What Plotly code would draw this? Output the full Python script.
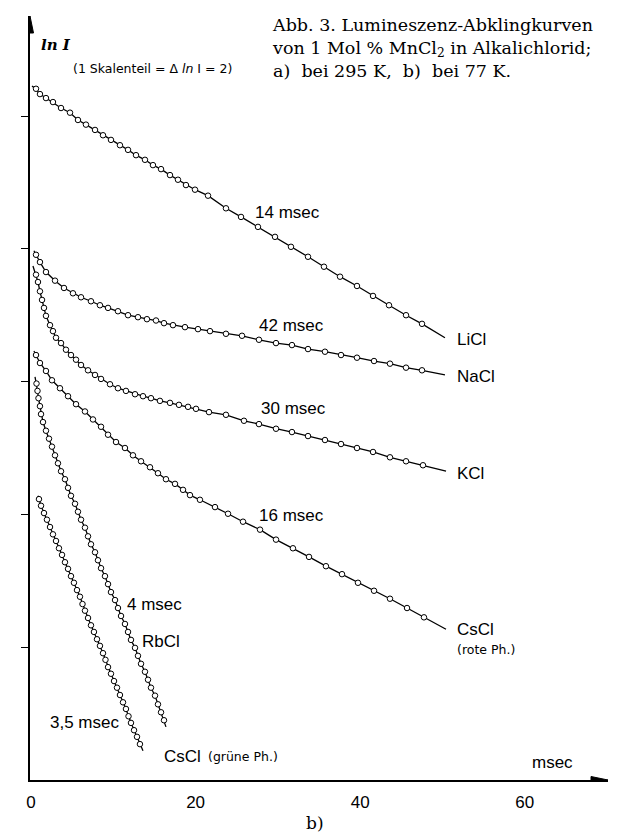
import plotly.graph_objects as go

# ---------------- data (t in msec, lnI in ln-units; 1 tick = 2) ----------------
x_tick_vals = [0, 20, 40, 60]
x_tick_text = ["0", "20", "40", "60"]
y_tick_vals = [2, 4, 6, 8, 10]

licl_t = [0.12, 0.61, 1.09, 1.82, 2.67, 3.65, 4.74, 5.71, 6.68, 7.78, 8.75, 9.72, 10.81, 11.79,
          12.76, 13.85, 14.82, 15.80, 16.89, 17.86, 18.83, 19.93, 21.51, 23.69, 25.52, 27.58,
          29.65, 31.59, 33.66, 35.60, 37.55, 39.61, 41.56, 43.50, 45.57, 47.51, 50.30]
licl_lnI = [10.45, 10.41, 10.33, 10.27, 10.21, 10.12, 10.05, 9.94, 9.87, 9.79, 9.71, 9.64, 9.56, 9.49,
            9.41, 9.34, 9.26, 9.20, 9.11, 9.04, 8.96, 8.89, 8.80, 8.61, 8.48, 8.33,
            8.18, 8.03, 7.88, 7.73, 7.58, 7.44, 7.29, 7.15, 7.00, 6.87, 6.66]

nacl_t = [0.36, 0.61, 1.09, 1.82, 2.92, 4.01, 5.10, 6.08, 7.29, 8.38, 9.36, 10.57, 11.79, 13.00,
          14.09, 15.19, 16.16, 17.25, 18.71, 20.29, 21.75, 23.69, 25.64, 27.70, 29.77, 31.71,
          33.66, 35.72, 37.67, 39.61, 41.68, 43.62, 45.57, 47.51, 50.30]
nacl_lnI = [7.97, 7.91, 7.80, 7.65, 7.52, 7.41, 7.33, 7.27, 7.21, 7.15, 7.11, 7.06, 7.00, 6.97,
            6.94, 6.92, 6.88, 6.85, 6.82, 6.79, 6.76, 6.72, 6.69, 6.63, 6.58, 6.55,
            6.49, 6.45, 6.40, 6.36, 6.31, 6.27, 6.21, 6.17, 6.10]

kcl_t = [0.24, 0.61, 0.85, 1.09, 1.34, 1.58, 1.82, 2.31, 2.67, 3.04, 3.65, 4.25, 4.86, 5.47,
         6.08, 6.93, 7.78, 8.51, 9.60, 10.57, 11.54, 12.64, 13.61, 14.58, 15.67, 16.89, 17.98,
         19.08, 20.05, 21.63, 23.69, 25.88, 27.70, 29.77, 31.71, 33.66, 35.72, 37.67, 39.61,
         41.56, 43.62, 45.57, 47.63, 50.43]
kcl_lnI = [7.74, 7.61, 7.50, 7.36, 7.23, 7.11, 6.99, 6.85, 6.76, 6.66, 6.58, 6.48, 6.40, 6.33,
           6.25, 6.17, 6.10, 6.04, 5.96, 5.90, 5.86, 5.81, 5.78, 5.75, 5.71, 5.68, 5.65,
           5.62, 5.59, 5.54, 5.50, 5.41, 5.36, 5.29, 5.24, 5.18, 5.12, 5.06, 5.00,
           4.94, 4.86, 4.80, 4.74, 4.65]

cscl_red_t = [0.36, 0.61, 1.09, 1.82, 2.55, 3.52, 4.50, 5.47, 6.56, 7.53, 8.51, 9.36, 10.33,
              11.42, 12.39, 13.37, 14.46, 15.43, 16.40, 17.50, 18.47, 19.32, 20.53, 22.36,
              23.94, 25.76, 27.83, 29.77, 31.83, 33.78, 35.84, 37.79, 39.73, 41.68, 43.62,
              45.69, 47.75, 50.43]
cscl_red_lnI = [6.46, 6.40, 6.28, 6.16, 6.02, 5.90, 5.78, 5.66, 5.55, 5.43, 5.32, 5.20, 5.09,
                5.00, 4.89, 4.80, 4.71, 4.62, 4.53, 4.46, 4.37, 4.29, 4.22, 4.11,
                4.01, 3.89, 3.77, 3.62, 3.49, 3.36, 3.22, 3.10, 2.97, 2.85, 2.73,
                2.59, 2.45, 2.27]

rbcl_t = [0.49, 0.67, 0.79, 0.91, 1.09, 1.22, 1.46, 1.82, 2.19, 2.55, 2.92, 3.28, 3.65, 4.13,
          4.50, 4.86, 5.35, 5.71, 6.08, 6.56, 6.93, 7.29, 7.78, 8.14, 8.51, 8.99, 9.36, 9.72,
          10.21, 10.57, 10.94, 11.42, 11.79, 12.15, 12.64, 13.00, 13.37, 13.85, 14.22, 14.58,
          15.07, 15.43, 15.80, 16.16, 16.40]
rbcl_lnI = [6.07, 5.97, 5.86, 5.75, 5.63, 5.51, 5.39, 5.26, 5.14, 5.02, 4.89, 4.77, 4.65, 4.53,
            4.40, 4.28, 4.16, 4.04, 3.92, 3.80, 3.67, 3.55, 3.43, 3.31, 3.19, 3.07, 2.95, 2.83,
            2.71, 2.59, 2.47, 2.35, 2.23, 2.11, 1.99, 1.87, 1.75, 1.63, 1.51, 1.39,
            1.27, 1.14, 1.02, 0.90, 0.80]

cscl_green_t = [0.85, 0.97, 1.22, 1.58, 1.94, 2.31, 2.67, 3.04, 3.40, 3.77, 4.13, 4.50, 4.86,
                5.22, 5.59, 5.95, 6.26, 6.56, 6.93, 7.29, 7.65, 8.02, 8.38, 8.75, 9.05, 9.36,
                9.72, 10.09, 10.45, 10.81, 11.18, 11.54, 11.85, 12.15, 12.52, 12.88, 13.24, 13.61]
cscl_green_lnI = [4.28, 4.23, 4.13, 4.02, 3.92, 3.81, 3.70, 3.60, 3.49, 3.39, 3.28, 3.18, 3.07,
                  2.97, 2.86, 2.76, 2.65, 2.55, 2.44, 2.33, 2.23, 2.12, 2.02, 1.91, 1.81, 1.70,
                  1.60, 1.49, 1.39, 1.28, 1.17, 1.07, 0.96, 0.86, 0.75, 0.65, 0.54, 0.44]

series = [
    ("LiCl", licl_t, licl_lnI),
    ("NaCl", nacl_t, nacl_lnI),
    ("KCl", kcl_t, kcl_lnI),
    ("CsCl (rote Ph.)", cscl_red_t, cscl_red_lnI),
    ("RbCl", rbcl_t, rbcl_lnI),
    ("CsCl (grüne Ph.)", cscl_green_t, cscl_green_lnI),
]

SANS = "Liberation Sans"
SANS_WIDE = "DejaVu Sans"
SERIF = "DejaVu Serif"

fig = go.Figure()
for name, t, y in series:
    # drawn curve (runs a little past the first/last measured point)
    fig.add_trace(go.Scatter(x=t, y=y, mode="lines", name=name,
                             line=dict(color="black", width=1.3),
                             showlegend=False, hoverinfo="skip"))
    # measured points: open circles
    fig.add_trace(go.Scatter(x=t[1:-1], y=y[1:-1], mode="markers", name=name,
                             marker=dict(symbol="circle", size=5.5, color="white",
                                         line=dict(color="black", width=1)),
                             showlegend=False))

ann = []
def label(text, x, y, size=17, xanchor="center", font=SANS, yanchor="middle",
          align="center", ref="x"):
    ann.append(dict(text=text, x=x, y=y,
                    xref="x" if ref == "x" else "paper",
                    yref="y" if ref == "x" else "paper",
                    showarrow=False, xanchor=xanchor, yanchor=yanchor, align=align,
                    font=dict(family=font, size=size, color="black")))

label("14 msec", 31.2, 8.55)
label("42 msec", 31.6, 6.84)
label("30 msec", 31.9, 5.59)
label("16 msec", 31.6, 3.98)
label("4 msec", 15.0, 2.64)
label("RbCl", 15.8, 2.08)
label("3,5 msec", 6.56, 0.86)
label("CsCl", 15.9, 0.36, xanchor="left")
label("(grüne Ph.)", 21.3, 0.35, size=12.5, xanchor="left", font=SANS_WIDE)
label("LiCl", 51.5, 6.63, xanchor="left")
label("NaCl", 51.5, 6.07, xanchor="left")
label("KCl", 51.5, 4.61, xanchor="left")
label("CsCl", 51.5, 2.26, xanchor="left")
label("(rote Ph.)", 51.5, 1.96, size=12.5, xanchor="left", font=SANS_WIDE)
label("msec", 63.4, 0.26)
label("<b><i>ln I</i></b>", 3.04, 11.07, size=15, font=SERIF)
label("(1 Skalenteil = Δ <i>ln</i> I = 2)", 4.86, 10.71, size=12.5, xanchor="left",
      font=SANS_WIDE)
# caption and panel letter sit outside the data area -> paper coordinates
label("Abb. 3. Lumineszenz-Abklingkurven<br>von 1 Mol % MnCl<sub>2</sub> in Alkalichlorid;<br>"
      "a)  bei 295 K,  b)  bei 77 K.", 0.415, 1.004, size=17.5, xanchor="left",
      yanchor="top", align="left", font=SERIF, ref="paper")
label("b)", 0.493, -0.056, size=17, font=SERIF, ref="paper")

X_MIN, X_MAX = -0.12, 70.11
Y_MIN, Y_MAX = 0, 11.506

shapes = [
    # arrowhead on x axis
    dict(type="path", xref="x", yref="y", xsizemode="pixel", ysizemode="pixel",
         xanchor=X_MAX, yanchor=Y_MIN, path="M 0 0 L -17 3.5 L -17 -3.5 Z",
         fillcolor="black", line=dict(color="black", width=1)),
    # arrowhead on y axis
    dict(type="path", xref="x", yref="y", xsizemode="pixel", ysizemode="pixel",
         xanchor=X_MIN, yanchor=Y_MAX, path="M 0 0 L -3.5 -17 L 3.5 -17 Z",
         fillcolor="black", line=dict(color="black", width=1)),
]

fig.update_layout(
    width=617, height=834,
    margin=dict(l=22, r=17, t=8, b=62),
    paper_bgcolor="white", plot_bgcolor="white",
    annotations=ann, shapes=shapes, showlegend=False,
    xaxis=dict(range=[X_MIN, X_MAX], showgrid=False, zeroline=False,
               showline=True, linecolor="black", linewidth=1.5,
               tickmode="array", tickvals=x_tick_vals, ticktext=x_tick_text,
               ticks="", ticklabelstandoff=6,
               tickfont=dict(family=SANS, size=17, color="black")),
    yaxis=dict(range=[Y_MIN, Y_MAX], showgrid=False, zeroline=False,
               showline=True, linecolor="black", linewidth=1.5,
               tickmode="array", tickvals=y_tick_vals, showticklabels=False,
               ticks="outside", ticklen=7, tickwidth=1.3, tickcolor="black"),
)

fig.write_html("out.html", config={"displayModeBar": False})
